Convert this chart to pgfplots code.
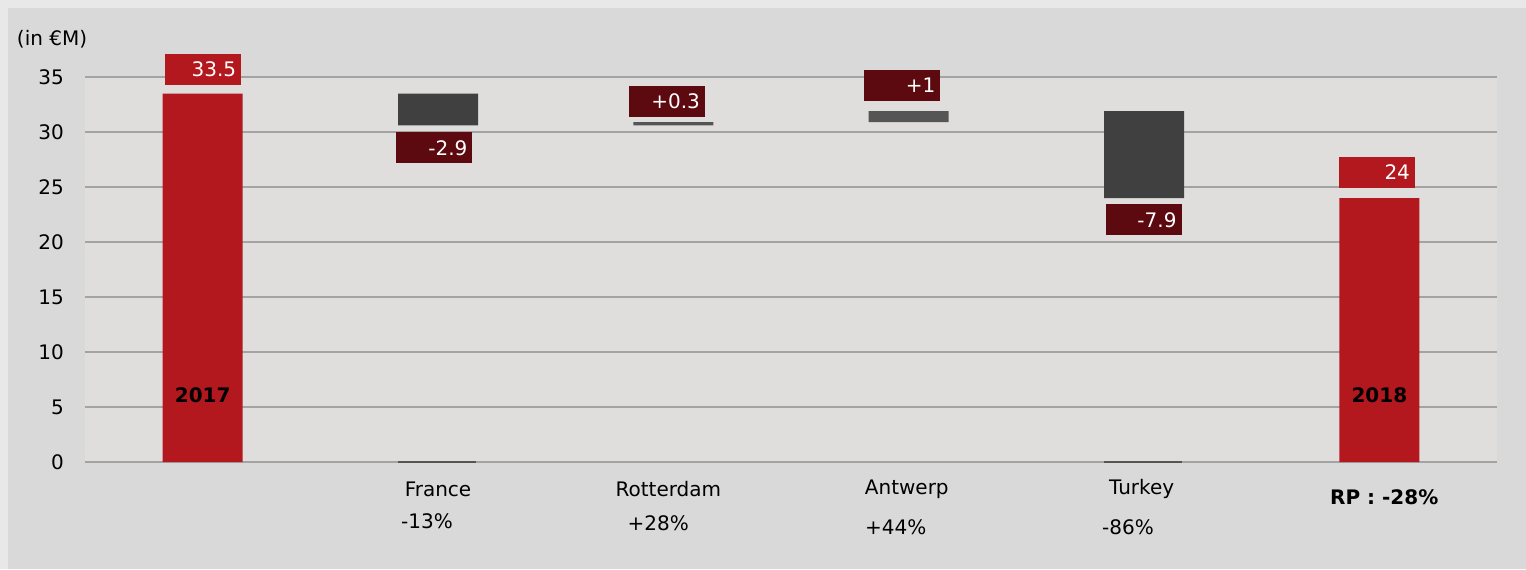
\documentclass[border=0pt]{standalone}
\usepackage{pgfplots}
\pgfplotsset{compat=1.18}
\usepackage{fontspec}
\setmainfont{DejaVu Sans}
\definecolor{outerbg}{HTML}{E8E8E8}
\definecolor{chartbg}{HTML}{D9D9D9}
\definecolor{plotbg}{HTML}{DFDEDC}
\definecolor{gridc}{HTML}{A3A3A3}
\definecolor{barred}{HTML}{B3181E}
\definecolor{labred}{HTML}{5C0A10}
\definecolor{bargray}{HTML}{404040}
\definecolor{barmid}{HTML}{555555}
\begin{document}
\begin{tikzpicture}[
  lab/.style={text=white, font=\fontsize{10}{12}\selectfont, minimum height=15.5pt,
    text width=33pt, align=right, inner xsep=2.5pt, inner ysep=0pt},
  cat/.style={font=\fontsize{10}{12}\selectfont, text=black},
]
\path[use as bounding box] (0,0) rectangle (763pt,284.5pt);
\fill[outerbg] (0,0) rectangle (763pt,284.5pt);
\fill[chartbg] (4pt,0) rectangle (763pt,280.5pt);
\begin{axis}[
  at={(42.5pt,53.5pt)}, anchor=south west,
  scale only axis, width=706pt, height=192.5pt,
  xmin=-0.5, xmax=5.5, ymin=0, ymax=35,
  ytick={0,5,...,35}, xtick=\empty,
  ymajorgrids, grid style={color=gridc, line width=1pt},
  axis line style={draw=none},
  major tick length=0pt,
  axis background/.style={fill=plotbg},
  yticklabel style={font=\fontsize{10}{12}\selectfont, xshift=-7pt},
  /pgf/number format/assume math mode=true,
  clip=false,
  ybar stacked, bar width=40pt,
]
% invisible base
\addplot[draw=none, fill=none] coordinates {(0,0) (1,30.6) (2,30.6) (3,30.9) (4,24) (5,0)};
% totals
\addplot[draw=none, fill=barred] coordinates {(0,33.5) (1,0) (2,0) (3,0) (4,0) (5,24)};
% decreases
\addplot[draw=none, fill=bargray] coordinates {(0,0) (1,2.9) (2,0) (3,0) (4,7.9) (5,0)};
% increases
\addplot[draw=none, fill=barmid] coordinates {(0,0) (1,0) (2,0.3) (3,1) (4,0) (5,0)};
\end{axis}
\begin{axis}[
  at={(42.5pt,53.5pt)}, anchor=south west,
  scale only axis, width=706pt, height=192.5pt,
  xmin=-0.5, xmax=5.5, ymin=0, ymax=35,
  hide axis, clip=false,
]
\addplot[color=barmid, line width=1pt] coordinates {(0.83,0) (1.16,0)};
\addplot[color=barmid, line width=1pt] coordinates {(3.83,0) (4.16,0)};

% value boxes
\node[lab, fill=barred, anchor=south east] at (axis cs:0.165,34.27) {33.5};
\node[lab, fill=labred, anchor=north east] at (axis cs:1.148,30.0) {-2.9};
\node[lab, fill=labred, anchor=south east] at (axis cs:2.136,31.36) {+0.3};
\node[lab, fill=labred, anchor=south east] at (axis cs:3.136,32.82) {+1};
\node[lab, fill=labred, anchor=north east] at (axis cs:4.161,23.45) {-7.9};
\node[lab, fill=barred, anchor=south east] at (axis cs:5.153,24.9) {24};

% in-bar year labels
\node[text=black, font=\bfseries\fontsize{10}{12}\selectfont] at (axis cs:0,6.1) {2017};
\node[text=black, font=\bfseries\fontsize{10}{12}\selectfont] at (axis cs:5,6.1) {2018};

% unit label
\node[cat] at (axis cs:-0.64,38.4) {(in €M)};

% category labels
\node[cat] at (axis cs:1,-2.45) {France};
\node[cat] at (axis cs:0.953,-5.36) {-13\%};
\node[cat] at (axis cs:1.979,-2.45) {Rotterdam};
\node[cat] at (axis cs:1.936,-5.55) {+28\%};
\node[cat] at (axis cs:2.992,-2.45) {Antwerp};
\node[cat] at (axis cs:2.945,-5.9) {+44\%};
\node[cat] at (axis cs:3.99,-2.45) {Turkey};
\node[cat] at (axis cs:3.932,-5.9) {-86\%};
\node[text=black, font=\bfseries\fontsize{10}{12}\selectfont] at (axis cs:5.021,-3.18) {RP : -28\%};
\end{axis}
\end{tikzpicture}
\end{document}
